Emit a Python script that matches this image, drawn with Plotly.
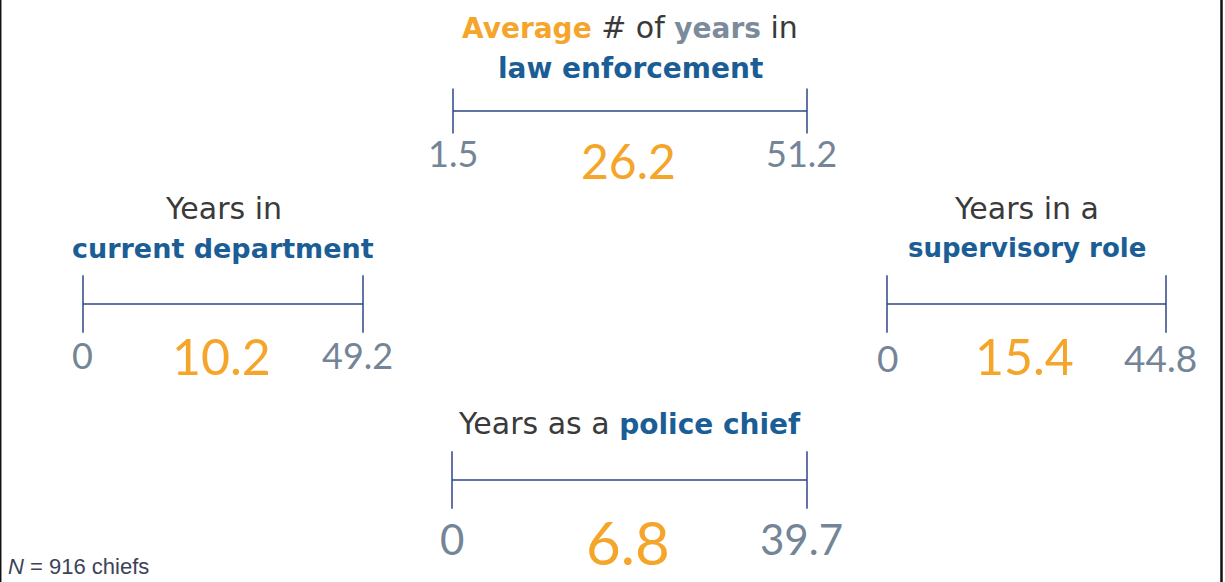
import plotly.graph_objects as go

W, H = 1225, 582

# ---- data ----
measures = ["law enforcement", "current department", "supervisory role", "police chief"]
min_years = [1.5, 0, 0, 0]
avg_years = [26.2, 10.2, 15.4, 6.8]
max_years = [51.2, 49.2, 44.8, 39.7]
min_labels = ["1.5", "0", "0", "0"]
avg_labels = ["26.2", "10.2", "15.4", "6.8"]
max_labels = ["51.2", "49.2", "44.8", "39.7"]
title_lines = [
    ["<b><span style='color:#F5A529;font-size:28px'>Average</span></b> # of "
     "<b><span style='color:#7B8B9B;font-size:28px'>years</span></b> in",
     "<b><span style='color:#1B5E96;font-size:28px'>law enforcement</span></b>"],
    ["Years in", "<b><span style='color:#1B5E96;font-size:27px'>current department</span></b>"],
    ["Years in a", "<b><span style='color:#1B5E96;font-size:26px'>supervisory role</span></b>"],
    ["Years as a <b><span style='color:#1B5E96;font-size:28px'>police chief</span></b>"],
]
note = "<i>N</i> = 916 chiefs"

# ---- layout / style (pixels) ----
bar_px_x = [(453, 807), (83, 363), (887, 1166), (452, 807)]
bar_px_y = [111, 304, 304, 480]
tick_len = [32, 41, 41, 41]
title_px_y = [[27, 68], [208, 248], [208, 248], [423]]
title_size = [30, 30, 30, 30]
num_px_y = [153, 355, 357, 539]
avg_px_y = [160, 356, 356, 542]
num_size = [36, 36, 37, 42]
avg_size = [48, 50, 50, 60]

ORANGE = "#F5A529"
GRAY = "#738597"
DARK = "#3A3A3A"
NAVY = "#2C4684"
FONT = "Lato"
TFONT = "DejaVu Sans"

fig = go.Figure()
ann = []
layout_axes = {}
for i in range(4):
    sfx = "" if i == 0 else str(i + 1)
    xa, ya = "x" + sfx, "y" + sfx
    x0p, x1p = bar_px_x[i]
    py = bar_px_y[i]
    layout_axes["xaxis" + sfx] = dict(domain=[x0p / W, x1p / W], range=[min_years[i], max_years[i]],
                                      visible=False, fixedrange=True, anchor=ya)
    layout_axes["yaxis" + sfx] = dict(domain=[1 - (py + 30) / H, 1 - (py - 30) / H], range=[-1, 1],
                                      visible=False, fixedrange=True, anchor=xa)
    fig.add_trace(go.Scatter(
        x=[min_years[i], max_years[i]], y=[0, 0], xaxis=xa, yaxis=ya,
        mode="lines+markers", cliponaxis=False,
        line=dict(color=NAVY, width=1.5),
        marker=dict(symbol="line-ns", size=tick_len[i], line=dict(color=NAVY, width=1.5)),
        hoverinfo="skip", showlegend=False,
    ))
    mid = (min_years[i] + max_years[i]) / 2
    for line, ty in zip(title_lines[i], title_px_y[i]):
        ann.append(dict(xref=xa, yref="paper", x=mid, y=1 - ty / H, text=line, showarrow=False,
                        xanchor="center", yanchor="middle",
                        font=dict(family=TFONT, size=title_size[i], color=DARK)))
    ann.append(dict(xref=xa, yref="paper", x=min_years[i], y=1 - num_px_y[i] / H, text=min_labels[i],
                    showarrow=False, xanchor="center", yanchor="middle",
                    font=dict(family=FONT, size=num_size[i], color=GRAY)))
    ann.append(dict(xref=xa, yref="paper", x=max_years[i], y=1 - num_px_y[i] / H, text=max_labels[i],
                    showarrow=False, xanchor="center", yanchor="middle", xshift=-6,
                    font=dict(family=FONT, size=num_size[i], color=GRAY)))
    ann.append(dict(xref=xa, yref="paper", x=mid, y=1 - avg_px_y[i] / H, text=avg_labels[i],
                    showarrow=False, xanchor="center", yanchor="middle", xshift=-2,
                    font=dict(family=FONT, size=avg_size[i], color=ORANGE)))

ann.append(dict(xref="paper", yref="paper", x=6 / W, y=1 - 566 / H, text=note, showarrow=False,
                xanchor="left", yanchor="middle",
                font=dict(family="Liberation Sans", size=22, color="#3B4358")))

fig.update_layout(
    width=W, height=H, margin=dict(l=0, r=0, t=0, b=0),
    paper_bgcolor="white", plot_bgcolor="white",
    annotations=ann,
    shapes=[
        dict(type="line", xref="paper", yref="paper", x0=0.7 / W, x1=0.7 / W, y0=0, y1=1,
             line=dict(color="#111111", width=1.5)),
        dict(type="line", xref="paper", yref="paper", x0=1221.5 / W, x1=1221.5 / W, y0=0, y1=1,
             line=dict(color="#111111", width=2.5)),
    ],
    **layout_axes,
)
fig.write_html("out.html")
